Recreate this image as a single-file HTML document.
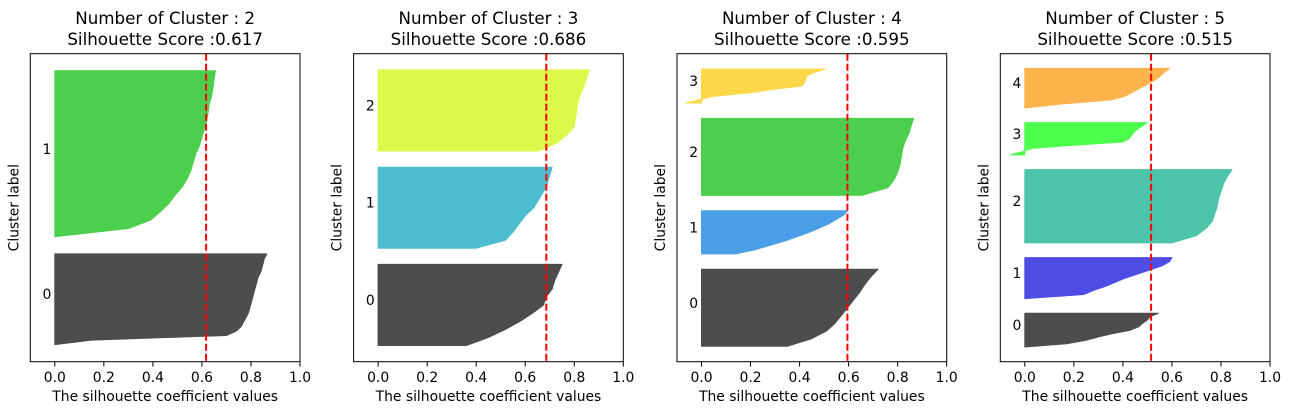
<!DOCTYPE html>
<html><head><meta charset="utf-8">
<style>
html,body{margin:0;padding:0;background:#fff;}
svg{display:block;font-family:"DejaVu Sans","Liberation Sans",sans-serif;}
</style></head>
<body>
<svg id="chart" width="1290" height="414" viewBox="0 0 1290 414" xmlns="http://www.w3.org/2000/svg"></svg>
<script>
// ---- data ----
const clusterCounts = [2, 3, 4, 5];
const silhouetteScores = [0.617, 0.686, 0.595, 0.515];
const clusterSizes = [
  [53, 97],
  [50, 50, 50],
  [50, 28, 50, 22],
  [23, 28, 50, 22, 27]
];
// silhouette values per cluster, sorted quantiles (bottom -> top)
const silK2 = [
  [0.0, 0.15, 0.70, 0.74, 0.76, 0.77, 0.78, 0.79, 0.795, 0.80, 0.805, 0.81, 0.815, 0.82, 0.825, 0.83, 0.84, 0.845, 0.85, 0.855, 0.865],
  [0.0, 0.30, 0.39, 0.43, 0.465, 0.49, 0.52, 0.54, 0.555, 0.565, 0.575, 0.59, 0.60, 0.61, 0.62, 0.625, 0.63, 0.64, 0.645, 0.65, 0.655]
];
const silK3 = [
  [0.36, 0.45, 0.52, 0.58, 0.63, 0.675, 0.685, 0.71, 0.72, 0.735, 0.75],
  [0.40, 0.52, 0.55, 0.575, 0.60, 0.635, 0.655, 0.675, 0.69, 0.70, 0.71],
  [0.655, 0.73, 0.77, 0.80, 0.805, 0.81, 0.815, 0.825, 0.84, 0.85, 0.862]
];
const silK4 = [
  [0.35, 0.45, 0.51, 0.545, 0.57, 0.595, 0.62, 0.645, 0.665, 0.69, 0.72],
  [0.14, 0.22, 0.28, 0.34, 0.39, 0.44, 0.48, 0.52, 0.55, 0.58, 0.595],
  [0.654, 0.76, 0.785, 0.80, 0.81, 0.815, 0.82, 0.83, 0.845, 0.855, 0.865],
  [-0.063, -0.005, 0.05, 0.20, 0.29, 0.41, 0.42, 0.425, 0.43, 0.46, 0.505]
];
const silK5 = [
  [0.0, 0.17, 0.25, 0.30, 0.36, 0.43, 0.465, 0.48, 0.50, 0.51, 0.545],
  [0.0, 0.24, 0.28, 0.33, 0.37, 0.41, 0.46, 0.51, 0.56, 0.59, 0.60],
  [0.60, 0.70, 0.74, 0.765, 0.775, 0.785, 0.79, 0.80, 0.81, 0.825, 0.845],
  [-0.06, -0.01, 0.03, 0.20, 0.40, 0.425, 0.435, 0.445, 0.46, 0.48, 0.50],
  [0.0, 0.15, 0.35, 0.41, 0.44, 0.47, 0.50, 0.53, 0.55, 0.57, 0.59]
];
const silValues = [silK2, silK3, silK4, silK5];
const clusterColors = [
  ["#4d4d4d", "#4ccf4c"],
  ["#4d4d4d", "#4cbccf", "#dbf94a"],
  ["#4d4d4d", "#4a9fe6", "#4ccf4c", "#ffd84a"],
  ["#4d4d4d", "#4d4de6", "#4cc4aa", "#4dff4d", "#ffb34d"]
];
const xTickValues = [0.0, 0.2, 0.4, 0.6, 0.8, 1.0];
const xTickLabels = ["0.0", "0.2", "0.4", "0.6", "0.8", "1.0"];

// ---- layout ----
const NS = "http://www.w3.org/2000/svg";
const svg = document.getElementById("chart");
const axLefts = [30.3, 353.6, 677, 1000.3];
const axW = 269.7, axTop = 53.7, axBot = 361.7;
const N = 150;

function mk(tag, attrs, parent) {
  const e = document.createElementNS(NS, tag);
  for (const k in attrs) e.setAttribute(k, attrs[k]);
  (parent || svg).appendChild(e);
  return e;
}

clusterCounts.forEach((k, p) => {
  const g = mk("g", {});
  
  
  const L = axLefts[p];
  const xs = v => L + (v + 0.1) / 1.1 * axW;
  const yMax = N + (k + 1) * 10;
  const ys = v => axBot - v / yMax * (axBot - axTop);

  let yLower = 10;
  clusterSizes[p].forEach((size, i) => {
    const vals = silValues[p][i];
    const yUpper = yLower + size;
    const pts = [];
    pts.push([xs(0), ys(yLower)]);
    vals.forEach((v, j) => {
      const yy = yLower + size * j / (vals.length - 1);
      pts.push([xs(v), ys(yy)]);
    });
    pts.push([xs(0), ys(yUpper)]);
    const poly = mk("polygon", {
      points: pts.map(q => q[0].toFixed(1) + "," + q[1].toFixed(1)).join(" "),
      fill: clusterColors[p][i], stroke: clusterColors[p][i], "stroke-width": 1,
      "stroke-linejoin": "round"
    }, g);
    
    
    const lab = mk("text", {x: xs(-0.05), y: ys(yLower + size / 2), "font-size": 13.9, "text-anchor": "start", fill: "#000"}, g);
    lab.textContent = String(i);
    
    
    yLower = yUpper + 10;
  });

  const avg = mk("line", {x1: xs(silhouetteScores[p]), x2: xs(silhouetteScores[p]), y1: axTop, y2: axBot, stroke: "#ff0000", "stroke-width": 2, "stroke-dasharray": "7,3"}, g);
  
  

  const frame = mk("rect", {x: L, y: axTop, width: axW, height: axBot - axTop, fill: "none", stroke: "#000", "stroke-width": 1}, g);
  
  

  xTickValues.forEach((v, t) => {
    const tk = mk("line", {x1: xs(v), x2: xs(v), y1: axBot, y2: axBot + 4.9, stroke: "#000", "stroke-width": 1}, g);
    
    
    const tl = mk("text", {x: xs(v), y: axBot + 20.5, "font-size": 13.9, "text-anchor": "middle", fill: "#000"}, g);
    tl.textContent = xTickLabels[t];
    
    
  });

  const xl = mk("text", {x: L + axW / 2, y: 401, "font-size": 13.9, "text-anchor": "middle", fill: "#000"}, g);
  xl.textContent = "The silhouette coefficient values";
  
  

  const yl = mk("text", {x: 0, y: 0, "font-size": 13.9, "text-anchor": "middle", fill: "#000", transform: "translate(" + (L - 12) + "," + ((axTop + axBot) / 2) + ") rotate(-90)"}, g);
  yl.textContent = "Cluster label";
  
  

  const t1 = mk("text", {x: L + axW / 2, y: 24, "font-size": 16.7, "text-anchor": "middle", fill: "#000"}, g);
  t1.textContent = "Number of Cluster : " + k;
  
  
  const t2 = mk("text", {x: L + axW / 2, y: 45, "font-size": 16.7, "text-anchor": "middle", fill: "#000"}, g);
  t2.textContent = "Silhouette Score :" + silhouetteScores[p].toFixed(3);
  
  
});
</script>
</body></html>
